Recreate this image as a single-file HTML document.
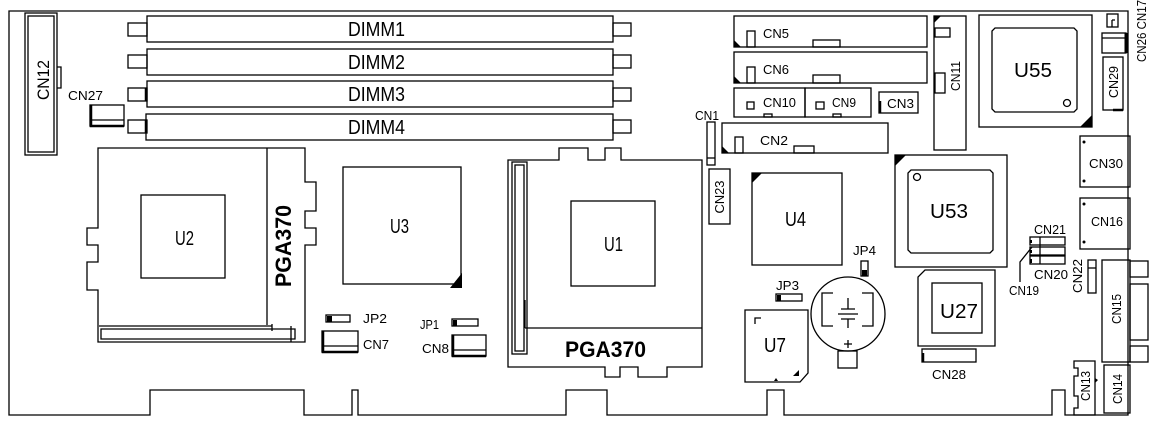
<!DOCTYPE html>
<html><head><meta charset="utf-8"><style>
html,body{margin:0;padding:0;background:#fff;}
svg{display:block;}
text{font-family:"Liberation Sans",sans-serif;fill:#000;}
</style></head><body>
<svg width="1157" height="425" viewBox="0 0 1157 425" xmlns="http://www.w3.org/2000/svg">
<g fill="none" stroke="#000" stroke-width="1.3">
<!-- board outline -->
<path d="M9,11 H1128 V415 H1065 V390 H1052 V415 H784 V390 H767 V415 H607 V390 H566 V415 H358 V390 H352 V415 H304 V390 H150 V415 H9 Z"/>
<!-- CN12 -->
<rect x="25" y="13" width="32" height="142"/><rect x="28" y="16" width="26" height="136"/>
<path d="M57,67 H61 V88 H57"/>
<!-- CN27 -->
<rect x="90" y="105" width="34" height="21"/><path d="M90,120 H124" /><path d="M91,105 V126 H124" stroke-width="2.5"/>
<!-- DIMMs -->
<rect x="147" y="16" width="466" height="26"/><rect x="128" y="23" width="19" height="13"/><rect x="613" y="23" width="18" height="13"/>
<rect x="147" y="49" width="466" height="26"/><rect x="128" y="55" width="19" height="13"/><rect x="613" y="55" width="18" height="13"/>
<rect x="147" y="81" width="466" height="26"/><rect x="128" y="88" width="19" height="13"/><rect x="613" y="88" width="18" height="13"/>
<rect x="146" y="114" width="467" height="26"/><rect x="128" y="120" width="19" height="13"/><rect x="613" y="120" width="18" height="13"/>
<path d="M146,88 V101 M146,120 V133" stroke-width="2.5"/>
<!-- U2 socket -->
<path d="M98,148 H305 V182 H316 V211 H305 V228 H316 V245 H305 V342 H98 V290 H87 V262 H98 V245 H87 V228 H98 Z"/>
<path d="M267,148 V325"/>
<path d="M101,329 H295 V339 H101 Z M99,326 H272 M272,324 V331 M291,326 V342"/>
<rect x="141" y="195" width="84" height="83"/>
<!-- U3 -->
<rect x="343" y="167" width="118" height="117"/>
<!-- JP2 CN7 JP1 CN8 -->
<rect x="326" y="315" width="24" height="7"/>
<rect x="322" y="331" width="36" height="21"/><path d="M323,331 V352 H358" stroke-width="2.5"/><path d="M322,346 H358"/>
<rect x="452" y="319" width="26" height="7"/>
<rect x="452" y="335" width="34" height="21"/><path d="M453,335 V356 H486" stroke-width="2.5"/><path d="M452,350 H486"/>
<!-- U1 socket -->
<path d="M508,160 H559 V148 H588 V160 H605 V148 H621 V160 H702 V367 H667 V377 H638 V367 H620 V377 H605 V367 H508 Z"/>
<rect x="512" y="162" width="15" height="192"/><rect x="515" y="165" width="9" height="186"/>
<path d="M525,328 H702 M525,328 V300"/>
<rect x="571" y="201" width="84" height="85"/>
<!-- CN1 CN23 -->
<rect x="707" y="122" width="8" height="43"/><path d="M707,158 H715"/>
<rect x="709" y="169" width="21" height="55"/>
<!-- CN2 -->
<rect x="722" y="123" width="166" height="30"/><rect x="735" y="137" width="8" height="16"/><rect x="794" y="146" width="20" height="7"/>
<!-- U4 -->
<rect x="752" y="173" width="90" height="92"/>
<!-- JP3 JP4 -->
<rect x="776" y="294" width="26" height="7"/>
<rect x="861" y="261" width="7" height="15"/>
<!-- U7 -->
<path d="M745,310 H808 V373 L800,382 H745 Z"/>
<path d="M755,324 V318 H761"/>
<!-- battery -->
<circle cx="848" cy="314" r="37"/>
<rect x="838" y="351" width="19" height="17"/>
<path d="M833,293 H822 V326 H833 M862,293 H873 V326 H862"/>
<path d="M848,298 V309 M841,309 H855 M838,314 H858 M841,319 H855 M848,319 V328"/>
<path d="M844,344 H852 M848,340 V348"/>
<!-- CN5 CN6 CN10 CN9 CN3 -->
<rect x="734" y="16" width="193" height="31"/><rect x="747" y="31" width="8" height="16"/><rect x="813" y="40" width="27" height="7"/>
<rect x="734" y="52" width="193" height="31"/><rect x="747" y="67" width="8" height="16"/><rect x="813" y="75" width="27" height="8"/>
<rect x="734" y="88" width="71" height="29"/><rect x="747" y="102" width="7" height="7"/><rect x="764" y="114" width="8" height="3"/>
<rect x="805" y="88" width="66" height="29"/><rect x="816" y="102" width="8" height="7"/><rect x="833" y="114" width="8" height="3"/>
<rect x="879" y="92" width="39" height="21"/><path d="M880,101 V113" stroke-width="2.5"/>
<!-- CN11 -->
<rect x="934" y="16" width="32" height="134"/><rect x="935" y="28" width="15" height="9"/><rect x="935" y="73" width="10" height="20"/>
<!-- U55 -->
<rect x="979" y="15" width="113" height="112"/>
<path d="M995,28 H1074 L1077,31 V109 L1074,112 H995 L992,109 V31 Z"/>
<circle cx="1067" cy="103" r="3.5"/>
<!-- CN17 CN26 CN29 -->
<rect x="1107" y="14" width="11" height="13"/><path d="M1112,20 H1115 M1112,20 V27"/>
<rect x="1102" y="33" width="24" height="20"/><path d="M1102,38 H1126"/><path d="M1126,33 V53" stroke-width="3"/>
<rect x="1103" y="57" width="20" height="53"/><path d="M1113,110 H1123" stroke-width="2.5"/>
<!-- U53 -->
<rect x="895" y="155" width="112" height="112"/>
<path d="M911,170 H990 L993,173 V250 L990,253 H911 L908,250 V173 Z"/>
<circle cx="917" cy="177" r="3.5"/>
<!-- CN30 CN16 -->
<rect x="1080" y="136" width="50" height="51"/>
<rect x="1080" y="198" width="50" height="51"/>
<!-- CN21 CN20 CN19 -->
<rect x="1030" y="237" width="35" height="8"/><rect x="1030" y="247" width="35" height="8"/><rect x="1030" y="256" width="35" height="8"/>
<path d="M1040,237 V264 M1032,247 L1020,262 V282"/>
<path d="M1031,240 V243 M1031,250 V253 M1031,259 V263" stroke-width="2"/>
<!-- CN22 -->
<rect x="1088" y="260" width="8" height="33"/><path d="M1088,268 H1096"/>
<!-- CN15 -->
<rect x="1102" y="260" width="28" height="102"/>
<rect x="1130" y="261" width="18" height="16"/><rect x="1130" y="284" width="18" height="56"/><rect x="1130" y="346" width="18" height="16"/>
<!-- CN13 CN14 -->
<path d="M1074,361 H1095 V415 H1074 V408 H1078 V396 H1074 V376 H1078 V368 H1074 Z"/>
<rect x="1104" y="365" width="26" height="48"/>
<!-- U27 -->
<path d="M925,270 H995 V346 H918 V277 Z"/>
<rect x="932" y="283" width="50" height="50"/>
<!-- CN28 -->
<rect x="922" y="349" width="54" height="13"/><path d="M923,353 V362" stroke-width="2.5"/>
</g>
<!-- black fills -->
<g fill="#000">
<path d="M462,273 V288 H450 Z"/>
<path d="M752,173 H762 L752,183 Z"/>
<path d="M734,47 V40 L741,47 Z M734,83 V76 L741,83 Z M722,153 V146 L729,153 Z"/>
<path d="M934,16 H941 L934,23 Z"/>
<path d="M1092,127 H1080 L1092,115 Z"/>
<path d="M895,155 H906 L895,166 Z"/>
<path d="M799,376 H793 L799,370 Z"/>
<rect x="327" y="316" width="5" height="6"/>
<rect x="453" y="320" width="4" height="6"/>
<rect x="777" y="295" width="4" height="6"/>
<rect x="862" y="270" width="5" height="6"/>
<path d="M774,381 L776,378 L778,381 Z"/>
<circle cx="1084" cy="142" r="1.5"/><circle cx="1084" cy="181" r="1.5"/>
<circle cx="1084" cy="204" r="1.5"/><circle cx="1084" cy="242" r="1.5"/>
<path d="M1095,378 L1098,380 L1095,383 Z"/>
</g>
<!-- labels -->
<g font-size="20">
<text x="348" y="36" textLength="57" lengthAdjust="spacingAndGlyphs">DIMM1</text>
<text x="348" y="69" textLength="57" lengthAdjust="spacingAndGlyphs">DIMM2</text>
<text x="348" y="101" textLength="57" lengthAdjust="spacingAndGlyphs">DIMM3</text>
<text x="348" y="134" textLength="57" lengthAdjust="spacingAndGlyphs">DIMM4</text>
<text x="175" y="245" textLength="19" lengthAdjust="spacingAndGlyphs">U2</text>
<text x="390" y="233" textLength="19" lengthAdjust="spacingAndGlyphs">U3</text>
<text x="604" y="251" textLength="19" lengthAdjust="spacingAndGlyphs">U1</text>
<text x="785" y="226" textLength="21" lengthAdjust="spacingAndGlyphs">U4</text>
<text x="764" y="352" textLength="22" lengthAdjust="spacingAndGlyphs">U7</text>
<text x="1014" y="77" textLength="38" lengthAdjust="spacingAndGlyphs">U55</text>
<text x="930" y="218" textLength="38" lengthAdjust="spacingAndGlyphs">U53</text>
<text x="940" y="318" textLength="38" lengthAdjust="spacingAndGlyphs">U27</text>
</g>
<text x="43" y="80" font-size="17" text-anchor="middle" transform="rotate(-90 43 80)" textLength="40" lengthAdjust="spacingAndGlyphs" dy="6">CN12</text>
<text x="565" y="357" font-size="22" font-weight="bold" textLength="81" lengthAdjust="spacingAndGlyphs">PGA370</text>
<text x="283" y="246" font-size="22" font-weight="bold" text-anchor="middle" transform="rotate(-90 283 246)" dy="8" textLength="82" lengthAdjust="spacingAndGlyphs">PGA370</text>
<g font-size="13">
<text x="68" y="100" textLength="35" lengthAdjust="spacingAndGlyphs">CN27</text>
<text x="363" y="323" textLength="24" lengthAdjust="spacingAndGlyphs">JP2</text>
<text x="363" y="349" textLength="26" lengthAdjust="spacingAndGlyphs">CN7</text>
<text x="420" y="329" textLength="19" lengthAdjust="spacingAndGlyphs">JP1</text>
<text x="422" y="353" textLength="27" lengthAdjust="spacingAndGlyphs">CN8</text>
<text x="695" y="120" textLength="24" lengthAdjust="spacingAndGlyphs">CN1</text>
<text x="760" y="145" textLength="28" lengthAdjust="spacingAndGlyphs">CN2</text>
<text x="763" y="38" textLength="26" lengthAdjust="spacingAndGlyphs">CN5</text>
<text x="763" y="74" textLength="26" lengthAdjust="spacingAndGlyphs">CN6</text>
<text x="763" y="107" textLength="33" lengthAdjust="spacingAndGlyphs">CN10</text>
<text x="832" y="107" textLength="24" lengthAdjust="spacingAndGlyphs">CN9</text>
<text x="887" y="108" textLength="27" lengthAdjust="spacingAndGlyphs">CN3</text>
<text x="776" y="290" textLength="23" lengthAdjust="spacingAndGlyphs">JP3</text>
<text x="853" y="255" textLength="23" lengthAdjust="spacingAndGlyphs">JP4</text>
<text x="1089" y="168" textLength="34" lengthAdjust="spacingAndGlyphs">CN30</text>
<text x="1091" y="226" textLength="32" lengthAdjust="spacingAndGlyphs">CN16</text>
<text x="1034" y="234" textLength="32" lengthAdjust="spacingAndGlyphs">CN21</text>
<text x="1034" y="279" textLength="34" lengthAdjust="spacingAndGlyphs">CN20</text>
<text x="1009" y="295" textLength="30" lengthAdjust="spacingAndGlyphs">CN19</text>
<text x="932" y="379" textLength="34" lengthAdjust="spacingAndGlyphs">CN28</text>
</g>
<g font-size="13" text-anchor="middle">
<text x="719" y="197" transform="rotate(-90 719 197)" dy="5" textLength="33" lengthAdjust="spacingAndGlyphs">CN23</text>
<text x="955" y="76" transform="rotate(-90 955 76)" dy="5" textLength="30" lengthAdjust="spacingAndGlyphs">CN11</text>
<text x="1113" y="82" transform="rotate(-90 1113 82)" dy="5" textLength="32" lengthAdjust="spacingAndGlyphs">CN29</text>
<text x="1141" y="31" transform="rotate(-90 1141 31)" dy="5" textLength="62" lengthAdjust="spacingAndGlyphs">CN26 CN17</text>
<text x="1077" y="276" transform="rotate(-90 1077 276)" dy="5" textLength="34" lengthAdjust="spacingAndGlyphs">CN22</text>
<text x="1116" y="309" transform="rotate(-90 1116 309)" dy="5" textLength="30" lengthAdjust="spacingAndGlyphs">CN15</text>
<text x="1085" y="386" transform="rotate(-90 1085 386)" dy="5" textLength="30" lengthAdjust="spacingAndGlyphs">CN13</text>
<text x="1117" y="389" transform="rotate(-90 1117 389)" dy="5" textLength="30" lengthAdjust="spacingAndGlyphs">CN14</text>
</g>
</svg>
</body></html>
